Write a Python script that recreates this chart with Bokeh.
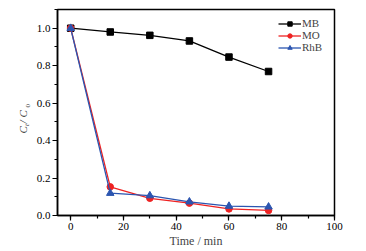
import math
from bokeh.plotting import figure
from bokeh.models import Range1d, Label, Legend, LegendItem, SingleIntervalTicker, PrintfTickFormatter
from bokeh.embed import file_html
from bokeh.resources import INLINE

time_min = [0, 15, 30, 45, 60, 75]
mb = [1.0, 0.98, 0.962, 0.932, 0.846, 0.769]
mo = [1.0, 0.153, 0.092, 0.066, 0.035, 0.027]
rhb = [1.0, 0.119, 0.106, 0.073, 0.050, 0.046]

W, H = 366, 251
FL, FR, FT, FB = 57, 334, 9, 215
X0, X1 = -5, 100
Y0, Y1 = 0, 1.1

p = figure(width=W, height=H, output_backend="svg", toolbar_location=None,
           x_range=Range1d(X0, X1), y_range=Range1d(Y0, Y1),
           min_border_left=FL, min_border_right=W - FR,
           min_border_top=FT, min_border_bottom=H - FB)
p.background_fill_color = "white"
p.border_fill_color = "white"
p.grid.visible = False
p.outline_line_color = "black"
p.outline_line_width = 1.5

FONT = "Liberation Serif"
for ax in (p.xaxis[0], p.yaxis[0]):
    ax.axis_line_width = 1.5
    ax.major_tick_in = 0
    ax.major_tick_out = 5
    ax.minor_tick_in = 0
    ax.minor_tick_out = 3
    ax.major_tick_line_width = 1.2
    ax.minor_tick_line_width = 1.2
    ax.major_label_text_font = FONT
    ax.major_label_text_font_size = "11px"
    ax.major_label_text_color = "black"
    ax.major_label_standoff = 2
p.xaxis.ticker = SingleIntervalTicker(interval=20, num_minor_ticks=2)
p.yaxis.ticker = SingleIntervalTicker(interval=0.2, num_minor_ticks=2)
p.yaxis.formatter = PrintfTickFormatter(format="%.1f")

p.xaxis.axis_label = "Time / min"
p.xaxis.axis_label_text_font = FONT
p.xaxis.axis_label_text_font_style = "normal"
p.xaxis.axis_label_text_font_size = "12px"
p.xaxis.axis_label_standoff = 1

r1 = p.line(time_min, mb, color="black", line_width=1.3)
s1 = p.scatter(time_min, mb, marker="square", size=6.5, color="black")
r2 = p.line(time_min, mo, color="#ee2222", line_width=1.3)
s2 = p.scatter(time_min, mo, marker="circle", size=6.5, color="#ee2222")
r3 = p.line(time_min, rhb, color="#2b55b0", line_width=1.3)
s3 = p.scatter(time_min, rhb, marker="triangle", size=7.5, color="#2b55b0")

legend = Legend(items=[LegendItem(label="MB", renderers=[r1, s1]),
                       LegendItem(label="MO", renderers=[r2, s2]),
                       LegendItem(label="RhB", renderers=[r3, s3])],
                location=(221, 162), padding=0, margin=0, spacing=-1,
                glyph_width=23, glyph_height=11, label_height=11,
                label_standoff=1, border_line_color=None,
                background_fill_alpha=0,
                label_text_font=FONT, label_text_font_size="11px")
p.add_layout(legend)

# Rotated y-axis label "C_t / C_0" built from pieces in the left side panel
# (x is relative to each piece's own side-panel box, y from the frame bottom)
start = 133
pieces = [("C  / C", "italic", "11px", 1.5, start),
          ("t", "italic", "7px", 13.5, start - 7.6),
          ("0", "normal", "7px", 18.5, start - 26.0)]
for txt, style, size, xx, ypx in pieces:
    p.add_layout(Label(x=xx, y=FB - ypx, x_units="screen", y_units="screen",
                       text=txt, text_font=FONT,
                       text_font_style=style, text_font_size=size, angle=math.pi / 2,
                       text_align="left", text_baseline="alphabetic"), "left")

open("out.html", "w").write(file_html(p, INLINE))
